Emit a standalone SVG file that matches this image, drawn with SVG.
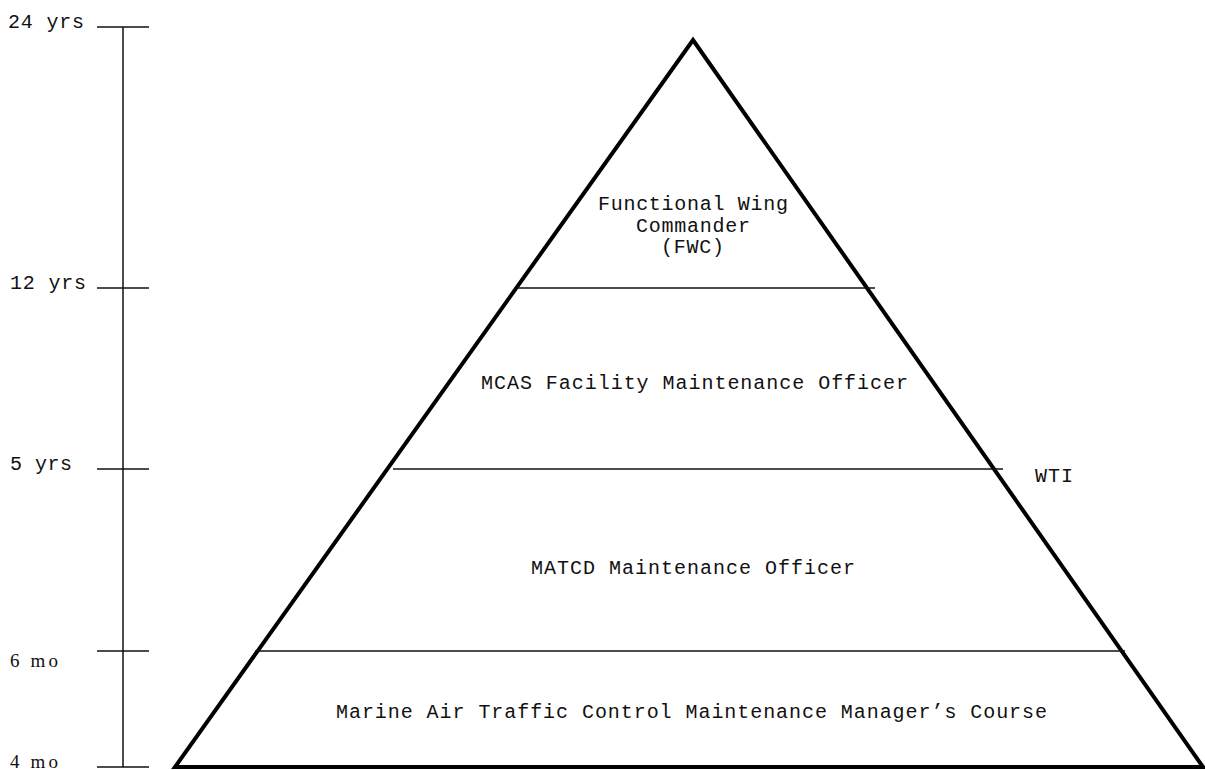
<svg xmlns="http://www.w3.org/2000/svg" width="1205" height="770" viewBox="0 0 1205 770">
<style>
.t{font-family:"Liberation Mono","Courier New",monospace;font-size:20px;fill:#111}
.s{font-family:"Liberation Serif","Times New Roman",serif;font-size:19px;fill:#111}
.ln{stroke:#111;stroke-width:1.5;fill:none}
.tri{stroke:#000;stroke-width:4;fill:none;stroke-linejoin:miter}
</style>
<rect width="1205" height="770" fill="#fff"/>
<g id="axis">
<line class="ln" x1="123" y1="27" x2="123" y2="767"/>
<line class="ln" x1="97" y1="27" x2="149" y2="27"/>
<line class="ln" x1="97" y1="288" x2="149" y2="288"/>
<line class="ln" x1="97" y1="469" x2="149" y2="469"/>
<line class="ln" x1="97" y1="651" x2="149" y2="651"/>
<line class="ln" x1="97" y1="767" x2="149" y2="767"/>
<text class="t" x="8" y="28" textLength="76" lengthAdjust="spacing">24 yrs</text>
<text class="t" x="10" y="289" textLength="76" lengthAdjust="spacing">12 yrs</text>
<text class="t" x="10" y="470" textLength="62" lengthAdjust="spacing">5 yrs</text>
<text class="s" x="10" y="667" textLength="48" lengthAdjust="spacing">6 mo</text>
<text class="s" x="10" y="768" textLength="48" lengthAdjust="spacing">4 mo</text>
</g>
<g id="pyramid">
<polygon class="tri" points="693,40 1203,767 175,767"/>
<line class="ln" x1="517" y1="288" x2="875" y2="288"/>
<line class="ln" x1="393" y1="469" x2="1003" y2="469"/>
<line class="ln" x1="255" y1="651" x2="1125" y2="651"/>
</g>
<g id="fwc">
<text class="t" x="598" y="210" textLength="190" lengthAdjust="spacing">Functional Wing</text>
<text class="t" x="636" y="232" textLength="114" lengthAdjust="spacing">Commander</text>
<text class="t" x="661" y="253" textLength="63" lengthAdjust="spacing">(FWC)</text>
</g>
<g id="mcas">
<text class="t" x="481" y="389" textLength="427" lengthAdjust="spacing">MCAS Facility Maintenance Officer</text>
</g>
<g id="wti">
<text class="t" x="1035" y="482" textLength="38" lengthAdjust="spacing">WTI</text>
</g>
<g id="matcd">
<text class="t" x="531" y="574" textLength="324" lengthAdjust="spacing">MATCD Maintenance Officer</text>
</g>
<g id="course">
<text class="t" x="336" y="718" textLength="711" lengthAdjust="spacing">Marine Air Traffic Control Maintenance Manager’s Course</text>
</g>
</svg>
